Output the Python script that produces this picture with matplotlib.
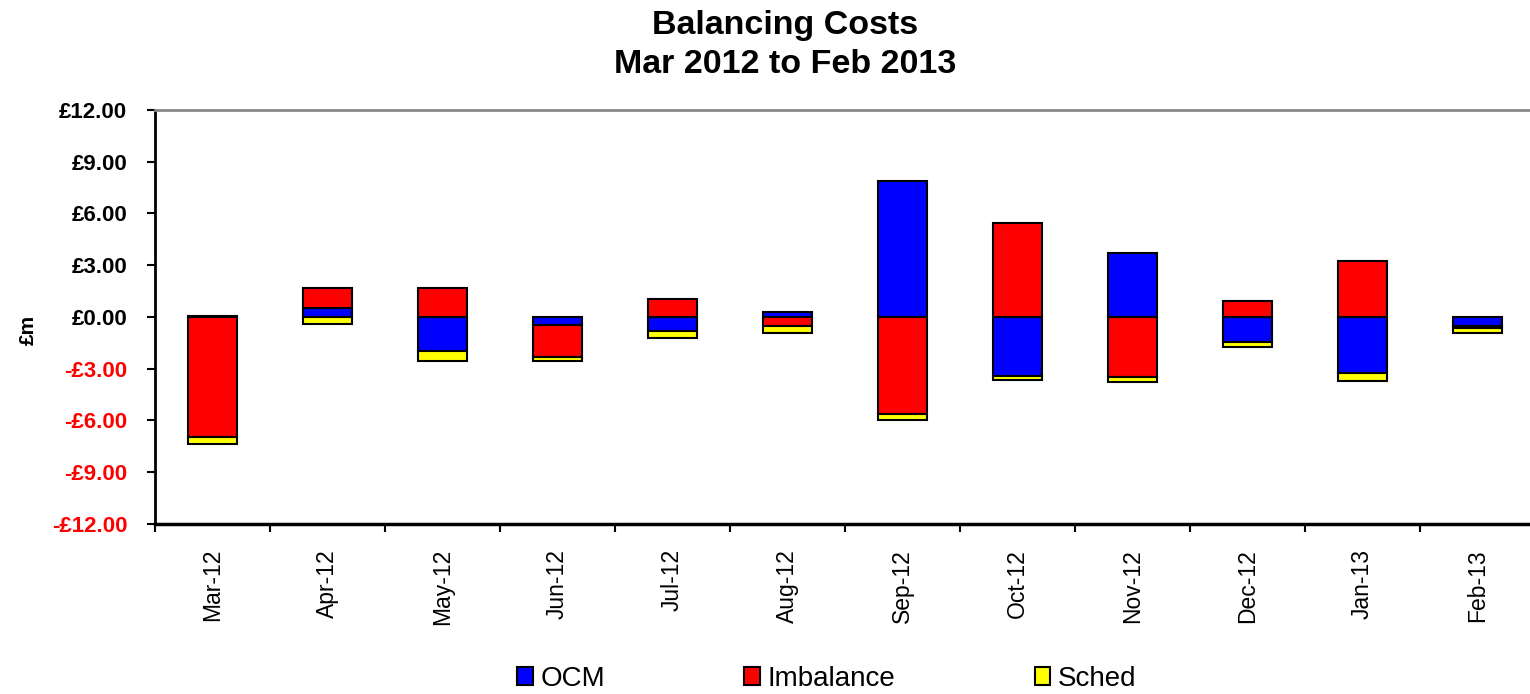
import numpy as np
import matplotlib.pyplot as plt

plt.rcParams['font.family'] = ['Liberation Sans', 'DejaVu Sans']

months = ['Mar-12', 'Apr-12', 'May-12', 'Jun-12', 'Jul-12', 'Aug-12',
          'Sep-12', 'Oct-12', 'Nov-12', 'Dec-12', 'Jan-13', 'Feb-13']
ocm = [0.08, 0.5, -1.95, -0.45, -0.8, 0.3, 7.9, -3.4, 3.73, -1.43, -3.27, -0.5]
imbalance = [-6.95, 1.16, 1.66, -1.85, 1.05, -0.5, -5.6, 5.47, -3.5, 0.91, 3.23, -0.12]
sched = [-0.4, -0.42, -0.6, -0.25, -0.42, -0.45, -0.4, -0.27, -0.27, -0.3, -0.43, -0.3]
yticks = [-12, -9, -6, -3, 0, 3, 6, 9, 12]

fig = plt.figure(figsize=(15.3, 6.94), dpi=100)
ax = fig.add_axes([155/1530, 0.245, 1380/1530, 0.5965])

x = np.arange(len(months))
pos = np.zeros(len(months))
neg = np.zeros(len(months))
for vals, col, name in [(ocm, '#0000ff', 'OCM'), (imbalance, '#ff0000', 'Imbalance'),
                        (sched, '#ffff00', 'Sched')]:
    v = np.array(vals)
    bottom = np.where(v >= 0, pos, neg)
    ax.bar(x, v, 0.42, bottom=bottom, color=col, edgecolor='black', linewidth=1.5, label=name)
    pos = pos + np.clip(v, 0, None)
    neg = neg + np.clip(v, None, 0)

ax.set_xlim(-0.5, 11.5)
ax.set_ylim(-12, 12)
ax.set_yticks(yticks)
labels = [('-£%.2f' % abs(t)) if t < 0 else ('£%.2f' % t) for t in yticks]
ax.set_yticklabels(labels, fontsize=16, fontweight='bold')
for lab, t in zip(ax.get_yticklabels(), yticks):
    lab.set_color('red' if t < 0 else 'black')

ax.set_xticks(x)
ax.set_xticklabels(months, rotation=90, fontsize=16.5)
ax.set_xticks(np.arange(-0.5, 12, 1), minor=True)
ax.tick_params(axis='x', which='major', length=0, pad=18)
ax.tick_params(axis='x', which='minor', length=6, width=1.5, direction='out')
ax.tick_params(axis='y', length=6, width=1.5, direction='out', pad=14)

ax.spines['left'].set_linewidth(2)
ax.spines['bottom'].set_linewidth(2.5)
ax.spines['top'].set_color('#888888')
ax.spines['top'].set_linewidth(2)
ax.spines['right'].set_visible(False)

fig.text(28/1530, 1 - 330/694, '£m', rotation=90, ha='center', va='center',
         fontsize=15, fontweight='bold')

fig.text(0.513, 0.985, 'Balancing Costs\nMar 2012 to Feb 2013', ha='center', va='top',
         fontsize=24.5, fontweight='bold', linespacing=1.3)

fig.legend(loc='center', bbox_to_anchor=(827/1530, 0.022), ncol=3, frameon=False,
           fontsize=20, handlelength=0.55, handleheight=0.65, handletextpad=0.3,
           columnspacing=5)

fig.savefig('out.png', dpi=100)
